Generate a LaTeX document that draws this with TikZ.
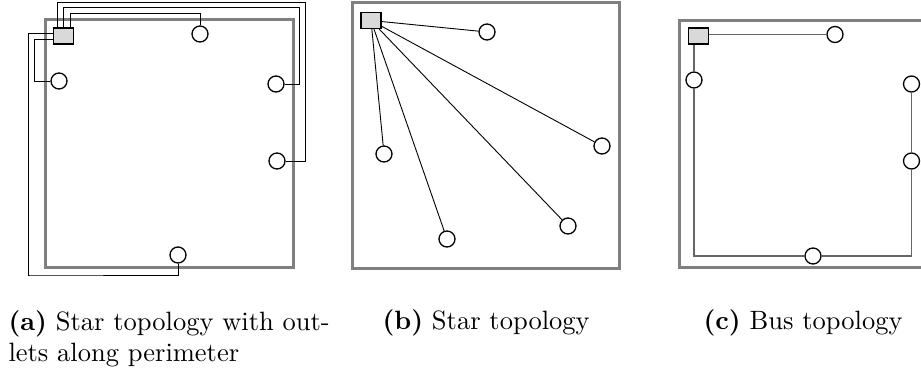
\documentclass[tikz,border=0pt]{standalone}
\begin{document}
\begin{tikzpicture}[x=1pt,y=-1pt,
  frame/.style={draw=black!50,line width=3pt},
  switch/.style={draw=black,fill=black!15,line width=1.3pt,minimum width=20pt,minimum height=16pt,inner sep=0pt},
  outlet/.style={circle,draw=black,fill=white,line width=1.3pt,minimum size=16pt,inner sep=0pt},
  wire/.style={draw=black,line width=0.9pt},
  bus/.style={draw=black!60,line width=1.2pt},
  captext/.style={inner sep=0pt,font=\normalsize,align=left,transform shape,scale=2.65}]
\useasboundingbox (0,0) rectangle (921,371);
% ---------- panel a
\draw[frame] (45,20) rectangle (293,268);
\node[switch] (swA) at (63.5,36) {};
\node[outlet] (tA) at (200,34) {};
\node[outlet] (lA) at (59,81) {};
\node[outlet] (r1A) at (276,84) {};
\node[outlet] (r2A) at (277,161) {};
\node[outlet] (bA) at (178,255) {};
\draw[wire] ([xshift=-6.5pt]swA.north) |- (305,2) |- (r2A.east);
\draw[wire] (swA.north) |- (299,7.5) |- (r1A.east);
\draw[wire] ([xshift=6.5pt]swA.north) |- (200,13) -- (tA.north);
\draw[wire] ([yshift=3pt]swA.west) -- ++(-24pt,0) |- (30,275) -| (bA.south);
\draw[wire] ([yshift=-3pt]swA.west) -- ++(-18pt,0) |- (lA.west);
% ---------- panel b
\draw[frame] (352,3) rectangle (619,269);
\node[switch] (swB) at (371,20.5) {};
\node[outlet] (b1) at (487,32) {};
\node[outlet] (b2) at (384,154) {};
\node[outlet] (b3) at (602,146) {};
\node[outlet] (b4) at (447,239) {};
\node[outlet] (b5) at (568,226) {};
\foreach \t in {b1,b2,b3,b4,b5} \draw[wire] (swB) -- (\t);
% ---------- panel c
\draw[frame] (679,21) rectangle (927,268);
\node[switch] (swC) at (698.5,36) {};
\node[outlet] (tC) at (835,34.5) {};
\node[outlet] (lC) at (694,80) {};
\node[outlet] (r1C) at (911.5,84) {};
\node[outlet] (r2C) at (911.5,161) {};
\node[outlet] (bC) at (813,256) {};
\draw[bus] ([yshift=1.5pt]swC.east) -- (tC.west);
\draw[bus] (swC.south -| lC.north) -- (lC.north);
\draw[bus] (lC.south) |- (bC.west);
\draw[bus] (bC.east) -| (r2C.south);
\draw[bus] (r2C.north) -- (r1C.south);
% ---------- captions
\node[captext,anchor=base west] (capA) at (8,361.8) {\textbf{(a)} Star topology with out-\\lets along perimeter};
\node[captext,anchor=base west] (capB) at (382,330) {\textbf{(b)} Star topology};
\node[captext,anchor=base west] (capC) at (703,330) {\textbf{(c)} Bus topology};
\end{tikzpicture}
\end{document}
